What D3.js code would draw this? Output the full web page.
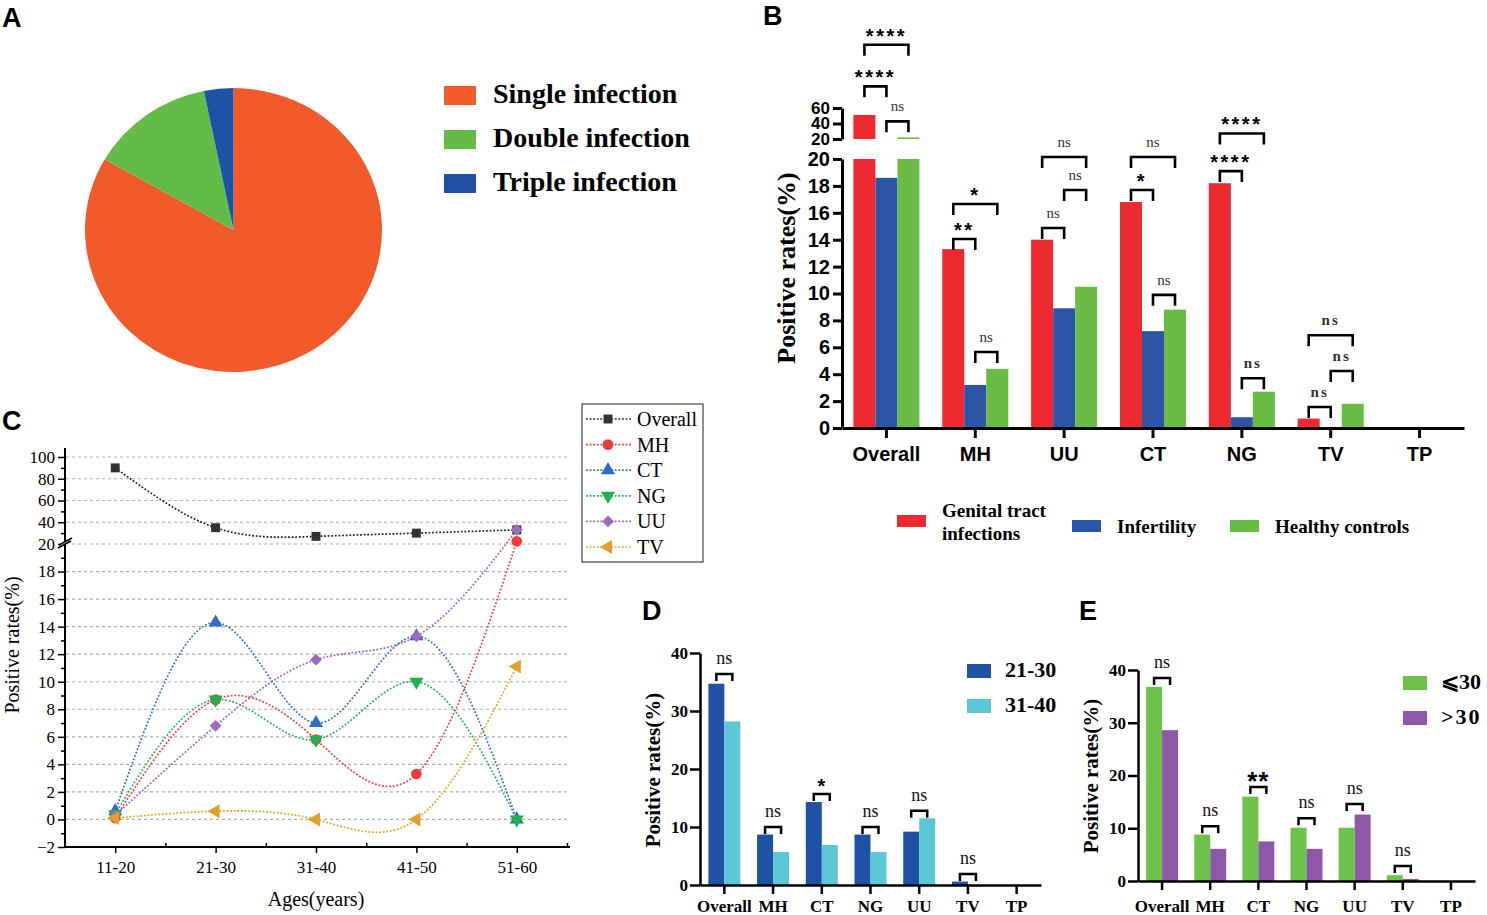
<!DOCTYPE html>
<html>
<head>
<meta charset="utf-8">
<script src="https://cdn.jsdelivr.net/npm/d3@7"></script>
<style>
  body { margin: 0; background: #fff; }
  svg { display: block; }
</style>
</head>
<body>
<svg id="chart"></svg>
<script>
// ---------- data ----------
// A: co-infection shares (%)
const infectionTypes = ["Single infection", "Double infection", "Triple infection"];
const infectionShares = [83.3, 13.5, 3.2];

// B: positive rates by cohort (%)
const cohortsB = ["Genital tract infections", "Infertility", "Healthy controls"];
const pathogensB = ["Overall", "MH", "UU", "CT", "NG", "TV", "TP"];
const gtiRates = [51, 13.3, 14.0, 16.8, 18.2, 0.7, 0];
const infertilityRates = [18.6, 3.2, 8.9, 7.2, 0.8, 0, 0];
const healthyRates = [22, 4.4, 10.5, 8.8, 2.7, 1.8, 0];
// [pathogen, bar a, bar b, bracket level (lower-axis units), label]
const sigB = [
  ["Overall", 0, 2, 28.5, "****"], ["Overall", 0, 1, 25.4, "****"], ["Overall", 1, 2, 22.8, "ns"],
  ["MH", 0, 2, 16.65, "*"], ["MH", 0, 1, 14.05, "**"], ["MH", 1, 2, 5.65, "ns"],
  ["UU", 0, 2, 20.15, "ns"], ["UU", 1, 2, 17.7, "ns"], ["UU", 0, 1, 14.87, "ns"],
  ["CT", 0, 2, 20.15, "ns"], ["CT", 0, 1, 17.7, "*"], ["CT", 1, 2, 9.9, "ns"],
  ["NG", 0, 2, 21.9, "****"], ["NG", 0, 1, 19.1, "****"], ["NG", 1, 2, 3.7, "ns"],
  ["TV", 0, 2, 6.9, "ns"], ["TV", 1, 2, 4.24, "ns"], ["TV", 0, 1, 1.56, "ns"]
];

// C: positive rates by age group (%)
const agesC = ["11-20", "21-30", "31-40", "41-50", "51-60"];
const seriesNamesC = ["Overall", "MH", "CT", "NG", "UU", "TV"];
const overallC = [90, 35, 27, 30, 33];
const mhC = [0.1, 8.7, 5.8, 3.3, 22.5];
const ctC = [0.6, 14.3, 7.0, 13.3, 0];
const ngC = [0.4, 8.7, 5.8, 10.0, 0];
const uuC = [0.3, 6.8, 11.6, 13.3, 33];
const tvC = [0.1, 0.6, 0, 0, 11.1];

// D and E
const pathogensDE = ["Overall", "MH", "CT", "NG", "UU", "TV", "TP"];
const groupsD = ["21-30", "31-40"];
const age2130 = [34.7, 8.7, 14.3, 8.7, 9.2, 0.6, 0];
const age3140 = [28.2, 5.7, 6.9, 5.7, 11.5, 0, 0];
const sigD = [["Overall", 36.4, "ns"], ["MH", 10.0, "ns"], ["CT", 15.7, "*"], ["NG", 10.0, "ns"], ["UU", 12.8, "ns"], ["TV", 1.9, "ns"]];

const groupsE = ["\u2A7D30", ">30"];
const ageLe30 = [36.8, 8.8, 16.0, 10.1, 10.1, 1.1, 0];
const ageGt30 = [28.6, 6.1, 7.5, 6.1, 12.6, 0.4, 0];
const sigE = [["Overall", 38.5, "ns"], ["MH", 10.4, "ns"], ["CT", 17.8, "**"], ["NG", 11.9, "ns"], ["UU", 14.6, "ns"], ["TV", 2.85, "ns"]];

// ---------- setup ----------
const serif = "'Liberation Serif', 'Times New Roman', serif";
const sans = "'Liberation Sans', Arial, sans-serif";

const svg = d3.select("#chart").attr("width", 1487).attr("height", 915);

function panelLetter(t, x, y) {
  svg.append("text").attr("x", x).attr("y", y).text(t)
    .attr("font-family", sans).attr("font-weight", "bold").attr("font-size", 27);
}
panelLetter("A", 2, 27);
panelLetter("B", 763, 25);
panelLetter("C", 2, 430);
panelLetter("D", 642, 620);
panelLetter("E", 1079, 620);

// bracket helper
function bracket(g, x1, x2, y, leg, label, o) {
  g.append("path")
    .attr("d", `M${x1},${y + leg}V${y}H${x2}V${y + leg}`)
    .attr("fill", "none").attr("stroke", "#000").attr("stroke-width", o.sw);
  const isStar = label.indexOf("*") >= 0;
  g.append("text")
    .attr("x", (x1 + x2) / 2)
    .attr("y", isStar ? y + o.starDy : y + o.nsDy)
    .attr("text-anchor", "middle")
    .attr("font-family", isStar ? sans : serif)
    .attr("font-weight", isStar ? "bold" : o.nsWeight || "normal")
    .attr("font-size", isStar ? o.starSize : o.nsSize)
    .attr("letter-spacing", isStar ? o.starSpacing : o.nsSpacing || 0)
    .attr("fill", isStar ? "#000" : o.nsColor || "#222")
    .text(label);
}

// ---------- A: pie ----------
const colorsA = ["#f15b2b", "#63bc47", "#1f52a6"];
const gA = svg.append("g");
const pieData = d3.pie().sort(null).value(d => d)(infectionShares);
const arcA = d3.arc().innerRadius(0).outerRadius(148.5);
gA.append("g").attr("transform", "translate(233.5,230) scale(1,0.956)")
  .selectAll("path").data(pieData).join("path")
  .attr("d", arcA).attr("fill", (d, i) => colorsA[i]);

const legA = gA.selectAll(".legA").data(infectionTypes).join("g")
  .attr("transform", (d, i) => `translate(444,${86 + i * 44})`);
legA.append("rect").attr("width", 32).attr("height", 19).attr("fill", (d, i) => colorsA[i]);
legA.append("text").attr("x", 49).attr("y", 17).text(d => d)
  .attr("font-family", serif).attr("font-weight", "bold").attr("font-size", 28);

// ---------- B: grouped bars with broken axis ----------
const colorsB = ["#ec2a2f", "#2b56a5", "#69bd45"];
const gB = svg.append("g");
const xB = d3.scaleBand().domain(pathogensB).range([842, 1464]).paddingInner(0.257).paddingOuter(0.1285);
const xBsub = d3.scaleBand().domain([0, 1, 2]).range([0, xB.bandwidth()]);
const yBlow = d3.scaleLinear().domain([0, 20]).range([428, 159]);
const yBup = d3.scaleLinear().domain([20, 60]).range([139, 108]);
const seriesB = [gtiRates, infertilityRates, healthyRates];

seriesB.forEach((vals, s) => {
  const bars = pathogensB.map((p, j) => ({ p, v: vals[j] }));
  gB.append("g").selectAll("rect").data(bars.filter(d => d.v > 0)).join("rect")
    .attr("x", d => xB(d.p) + xBsub(s))
    .attr("width", xBsub.bandwidth())
    .attr("y", d => yBlow(Math.min(d.v, 20)))
    .attr("height", d => yBlow(0) - yBlow(Math.min(d.v, 20)))
    .attr("fill", colorsB[s]);
  gB.append("g").selectAll("rect").data(bars.filter(d => d.v > 20)).join("rect")
    .attr("x", d => xB(d.p) + xBsub(s))
    .attr("width", xBsub.bandwidth())
    .attr("y", d => yBup(d.v))
    .attr("height", d => yBup(20) - yBup(d.v))
    .attr("fill", colorsB[s]);
});

function styleAxisB(ax, fs) {
  ax.selectAll("path, line").attr("stroke", "#000").attr("stroke-width", 3);
  ax.selectAll("text").attr("font-family", sans).attr("font-weight", "bold").attr("font-size", fs).attr("fill", "#000");
}
const axBlow = gB.append("g").attr("transform", "translate(842,0)")
  .call(d3.axisLeft(yBlow).tickValues(d3.range(0, 21, 2)).tickSize(9).tickSizeOuter(0).tickPadding(3));
styleAxisB(axBlow, 20);
const axBup = gB.append("g").attr("transform", "translate(842,0)")
  .call(d3.axisLeft(yBup).tickValues([20, 40, 60]).tickSize(9).tickSizeOuter(0).tickPadding(3));
styleAxisB(axBup, 17);
const axBx = gB.append("g").attr("transform", "translate(0,428)")
  .call(d3.axisBottom(xB).tickSize(10).tickSizeOuter(0).tickPadding(9));
styleAxisB(axBx, 20);

gB.append("text").attr("transform", "translate(795,268) rotate(-90)")
  .attr("text-anchor", "middle").attr("font-family", serif).attr("font-weight", "bold").attr("font-size", 26)
  .text("Positive rates(%)");

// legend B
const legBx = [897, 1072, 1230];
cohortsB.forEach((c, i) => {
  const lg = gB.append("g").attr("transform", `translate(${legBx[i]},${i === 0 ? 515 : 520})`);
  lg.append("rect").attr("width", 29).attr("height", 12).attr("fill", colorsB[i]);
  const t = lg.append("text").attr("x", 45).attr("font-family", serif).attr("font-weight", "bold").attr("font-size", 19);
  if (i === 0) {
    t.append("tspan").attr("x", 45).attr("y", 2).text("Genital tract");
    t.append("tspan").attr("x", 45).attr("y", 25).text("infections");
  } else {
    t.attr("y", 13).text(c);
  }
});

// brackets B
sigB.forEach(([p, a, b, lvl, lab]) => {
  const x1 = xB(p) + xBsub(a) + xBsub.bandwidth() / 2;
  const x2 = xB(p) + xBsub(b) + xBsub.bandwidth() / 2;
  bracket(gB, x1, x2, yBlow(lvl), 11, lab, {
    sw: 2.6, starDy: -2, starSize: 20, starSpacing: 2.5, nsDy: -10, nsSize: 15,
    nsWeight: p === "TV" || p === "NG" ? "bold" : "normal", nsSpacing: p === "TV" || p === "NG" ? 2 : 0, nsColor: "#333"
  });
});

// ---------- C: spline lines with broken axis ----------
const colorsC = ["#222222", "#f53b3b", "#2f6dcc", "#1fb35a", "#9a62c8", "#e8a21e"];
const markerColorsC = ["#333333", "#f23a3a", "#2e6cc6", "#20b04e", "#9d6ac0", "#e2a02a"];
const seriesC = [overallC, mhC, ctC, ngC, uuC, tvC];
const gC = svg.append("g");
const xC = d3.scaleLinear().domain([0.5, 5.5]).range([65, 567]);
const yClow = d3.scaleLinear().domain([-2, 20]).range([847, 544]);
const yCup = d3.scaleLinear().domain([20, 100]).range([544, 457]);
const yC = v => (v <= 20 ? yClow(v) : yCup(v));

// grid
const gridVals = [100, 80, 60, 40, 20].concat(d3.range(18, -1, -2));
gC.append("g").selectAll("line").data(gridVals).join("line")
  .attr("x1", 66).attr("x2", 567).attr("y1", d => yC(d)).attr("y2", d => yC(d))
  .attr("stroke", "#b0b0b0").attr("stroke-width", 1.2).attr("stroke-dasharray", "3,3");

function styleAxisC(ax) {
  ax.select(".domain").remove();
  ax.selectAll("line").attr("stroke", "#000").attr("stroke-width", 1.5);
  ax.selectAll("text").attr("font-family", serif).attr("font-size", 17).attr("fill", "#000");
}
styleAxisC(gC.append("g").attr("transform", "translate(65,0)")
  .call(d3.axisLeft(yClow).tickValues(d3.range(-2, 19, 2)).tickSize(7).tickPadding(3)));
styleAxisC(gC.append("g").attr("transform", "translate(65,0)")
  .call(d3.axisLeft(yClow).tickValues(d3.range(-1, 20, 2)).tickSize(4).tickFormat("")));
styleAxisC(gC.append("g").attr("transform", "translate(65,0)")
  .call(d3.axisLeft(yCup).tickValues([20, 40, 60, 80, 100]).tickSize(7).tickPadding(3)));
styleAxisC(gC.append("g").attr("transform", "translate(65,0)")
  .call(d3.axisLeft(yCup).tickValues([30, 50, 70, 90]).tickSize(4).tickFormat("")));
styleAxisC(gC.append("g").attr("transform", "translate(0,847)")
  .call(d3.axisBottom(xC).tickValues([1, 2, 3, 4, 5]).tickSize(6).tickPadding(8).tickFormat(i => agesC[i - 1])));
styleAxisC(gC.append("g").attr("transform", "translate(0,847)")
  .call(d3.axisBottom(xC).tickValues([1.5, 2.5, 3.5, 4.5, 5.5]).tickSize(-4).tickFormat("")));
gC.append("line").attr("x1", 65).attr("x2", 65).attr("y1", 448).attr("y2", 847.7).attr("stroke", "#000").attr("stroke-width", 2);
gC.append("line").attr("x1", 64).attr("x2", 570).attr("y1", 847).attr("y2", 847).attr("stroke", "#000").attr("stroke-width", 2);
// break mark
gC.append("rect").attr("x", 60).attr("y", 542).attr("width", 10).attr("height", 3).attr("fill", "#fff");
gC.append("path").attr("d", "M58,548L71,541M59,545L72,538").attr("stroke", "#000").attr("stroke-width", 1.5);

gC.append("text").attr("transform", "translate(19,645) rotate(-90)").attr("text-anchor", "middle")
  .attr("font-family", serif).attr("font-size", 20).text("Positive rates(%)");
gC.append("text").attr("x", 316).attr("y", 906).attr("text-anchor", "middle")
  .attr("font-family", serif).attr("font-size", 20).text("Ages(years)");

const symC = [
  { type: d3.symbolSquare, size: 80, rot: 0 },
  { type: d3.symbolCircle, size: 90, rot: 0 },
  { type: d3.symbolTriangle, size: 85, rot: 0 },
  { type: d3.symbolTriangle, size: 85, rot: 180 },
  { type: d3.symbolSquare, size: 70, rot: 45 },
  { type: d3.symbolTriangle, size: 85, rot: -90 }
];
const lineC = d3.line().x((d, i) => xC(i + 1)).y(d => yC(d)).curve(d3.curveNatural);
seriesC.forEach((vals, s) => {
  gC.append("path").attr("d", lineC(vals)).attr("fill", "none")
    .attr("stroke", colorsC[s]).attr("stroke-width", 1.7).attr("stroke-dasharray", "1.8,1.8");
});
seriesC.forEach((vals, s) => {
  gC.append("g").selectAll("path").data(vals).join("path")
    .attr("d", d3.symbol().type(symC[s].type).size(symC[s].size))
    .attr("transform", (d, i) => `translate(${xC(i + 1)},${yC(d)}) rotate(${symC[s].rot})`)
    .attr("fill", markerColorsC[s]);
});

// legend C
gC.append("rect").attr("x", 582).attr("y", 404).attr("width", 121).attr("height", 158)
  .attr("fill", "#fff").attr("stroke", "#444").attr("stroke-width", 1.2);
seriesNamesC.forEach((n, s) => {
  const y = 419 + s * 25.6;
  gC.append("line").attr("x1", 586).attr("x2", 632).attr("y1", y).attr("y2", y)
    .attr("stroke", colorsC[s]).attr("stroke-width", 1.7).attr("stroke-dasharray", "1.8,1.8");
  gC.append("path").attr("d", d3.symbol().type(symC[s].type).size(symC[s].size))
    .attr("transform", `translate(608,${y}) rotate(${symC[s].rot})`).attr("fill", markerColorsC[s]);
  gC.append("text").attr("x", 637).attr("y", y + 7).attr("font-family", serif).attr("font-size", 20).text(n);
});

// ---------- D and E: two-group bars ----------
function pairPanel(o) {
  const g = svg.append("g");
  const x = d3.scaleBand().domain(pathogensDE).range([o.x0, o.x1]).paddingInner(o.pad).paddingOuter(o.pad / 2);
  const xs = d3.scaleBand().domain([0, 1]).range([0, x.bandwidth()]);
  const y = d3.scaleLinear().domain([0, 40]).range([o.y0, o.y1]);
  o.series.forEach((vals, s) => {
    g.append("g").selectAll("rect").data(pathogensDE.map((p, j) => ({ p, v: vals[j] })).filter(d => d.v > 0))
      .join("rect")
      .attr("x", d => x(d.p) + xs(s)).attr("width", xs.bandwidth())
      .attr("y", d => y(d.v)).attr("height", d => y(0) - y(d.v))
      .attr("fill", o.colors[s]);
  });
  const st = ax => {
    ax.selectAll("path, line").attr("stroke", "#000").attr("stroke-width", 2.5);
    ax.selectAll("text").attr("font-family", serif).attr("font-weight", "bold").attr("font-size", 17).attr("fill", "#000");
  };
  st(g.append("g").attr("transform", `translate(${o.x0},0)`)
    .call(d3.axisLeft(y).tickValues([0, 10, 20, 30, 40]).tickSize(10).tickSizeOuter(0).tickPadding(2)));
  st(g.append("g").attr("transform", `translate(0,${o.y0})`)
    .call(d3.axisBottom(x).tickSize(9).tickSizeOuter(0).tickPadding(o.xPad)));
  g.append("text").attr("transform", `translate(${o.labX},${o.labY}) rotate(-90)`).attr("text-anchor", "middle")
    .attr("font-family", serif).attr("font-weight", "bold").attr("font-size", 21).text("Positive rates(%)");
  o.sig.forEach(([p, lvl, lab]) => {
    const x1 = x(p) + xs.bandwidth() / 2, x2 = x(p) + xs.bandwidth() * 1.5;
    bracket(g, x1, x2, y(lvl), 7, lab, {
      sw: 2.5, starDy: o.starDy, starSize: o.starSize, starSpacing: 1, nsDy: -10, nsSize: 18, nsColor: "#111"
    });
  });
  o.groups.forEach((n, s) => {
    g.append("rect").attr("x", o.legX).attr("y", o.legY + s * 35).attr("width", 24).attr("height", 14).attr("fill", o.colors[s]);
    g.append("text").attr("x", o.legX + 38).attr("y", o.legY + 13 + s * 35)
      .attr("font-family", serif).attr("font-weight", "bold").attr("font-size", 22)
      .attr("letter-spacing", s === 1 && o.spaceSecond ? 2 : 0).text(n);
  });
}

pairPanel({
  series: [age2130, age3140], groups: groupsD, colors: ["#1f52a5", "#5cc8d6"], sig: sigD,
  x0: 700, x1: 1041, pad: 0.343, y0: 885, y1: 653, labX: 660, labY: 770,
  legX: 967, legY: 664, starDy: -1, starSize: 20, xPad: 6
});
pairPanel({
  series: [ageLe30, ageGt30], groups: groupsE, colors: ["#6cc24a", "#8f57a8"], sig: sigE,
  x0: 1138, x1: 1475, pad: 0.336, y0: 881, y1: 670, labX: 1098, labY: 776,
  legX: 1403, legY: 676, starDy: 3, starSize: 26, spaceSecond: true, xPad: 10
});
</script>
</body>
</html>
